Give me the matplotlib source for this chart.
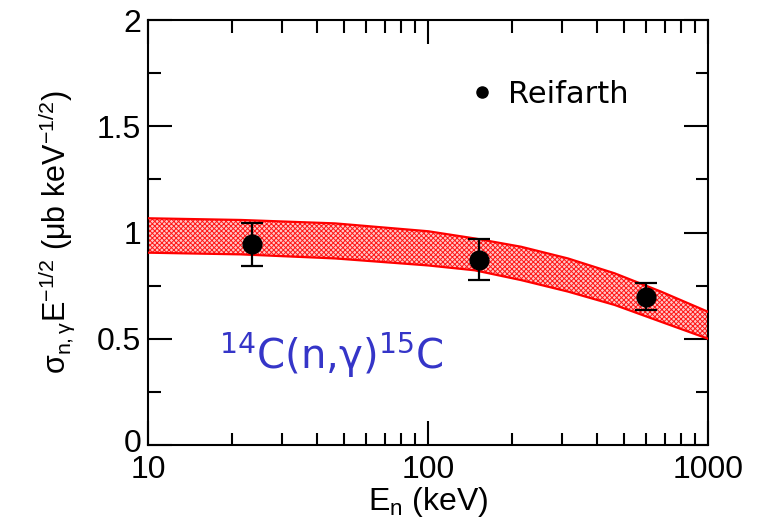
import matplotlib
matplotlib.use("Agg")
import matplotlib.pyplot as plt
import matplotlib.transforms as mtransforms
import numpy as np
from matplotlib.ticker import FixedLocator, NullFormatter, LogLocator
from matplotlib.lines import Line2D

plt.rcParams['font.family'] = ['Liberation Sans', 'DejaVu Sans']
plt.rcParams['mathtext.fontset'] = 'custom'
plt.rcParams['mathtext.rm'] = 'Liberation Sans'
plt.rcParams['mathtext.it'] = 'Liberation Sans:italic'
plt.rcParams['hatch.color'] = '#ff1818'
plt.rcParams['hatch.linewidth'] = 0.7

# Data (Reifarth)
exp_E = [23.5, 152, 601]
exp_y = [0.947, 0.872, 0.697]
exp_lo = [0.842, 0.775, 0.635]
exp_hi = [1.046, 0.970, 0.762]

# Theory band
band_E = [10, 21.5, 46.5, 100, 147, 215, 316, 464, 679, 1000]
band_up = [1.067, 1.059, 1.043, 1.006, 0.972, 0.933, 0.878, 0.808, 0.722, 0.627]
band_lo = [0.905, 0.897, 0.878, 0.845, 0.822, 0.776, 0.722, 0.659, 0.580, 0.500]

fig = plt.figure(figsize=(7.62, 5.31), dpi=100)
ax = fig.add_axes([148/762, 1-445/531, (708-148)/762, (445-20)/531])

ax.fill_between(band_E, band_lo, band_up, facecolor='#ffc8c8', edgecolor='none',
                hatch='xxxxxxx', linewidth=0, zorder=2)
ax.plot(band_E, band_up, color='red', lw=1.6, zorder=3)
ax.plot(band_E, band_lo, color='red', lw=1.6, zorder=3)

yerr = [np.array(exp_y) - np.array(exp_lo), np.array(exp_hi) - np.array(exp_y)]
ax.errorbar(exp_E, exp_y, yerr=yerr, fmt='o', color='black', ms=13.5,
            capsize=8, elinewidth=1.6, capthick=1.6, zorder=5)

ax.set_xscale('log')
ax.set_xlim(10, 1000)
ax.set_ylim(0, 2)
ax.set_xticks([10, 100, 1000])
ax.set_xticklabels(['10', '100', '1000'])
ax.xaxis.set_minor_locator(LogLocator(base=10, subs=np.arange(2, 10)))
ax.xaxis.set_minor_formatter(NullFormatter())
ax.set_yticks([0, 0.5, 1, 1.5, 2])
ax.set_yticklabels(['0', '0.5', '1', '1.5', '2'])
ax.yaxis.set_minor_locator(FixedLocator([0.25, 0.75, 1.25, 1.75]))

ax.tick_params(which='both', direction='in', top=True, right=True, labelsize=23, width=1.5)
ax.tick_params(which='major', length=17)
ax.tick_params(which='minor', length=9)
ax.tick_params(axis='y', pad=5)
ax.tick_params(axis='x', pad=7)
for s in ax.spines.values():
    s.set_linewidth(1.5)

# lift the "0" label slightly so it does not touch "10"
lbl0 = ax.get_yticklabels()[0]
lbl0.set_transform(lbl0.get_transform() + mtransforms.ScaledTranslation(0, 4/100, fig.dpi_scale_trans))

ax.set_xlabel('E$_\\mathregular{n}$ (keV)', fontsize=23, labelpad=0)
ax.set_ylabel(r'$\mathregular{\sigma_{n,\gamma}E^{-1/2}}$ (μb keV$\mathregular{^{-1/2}}$)', fontsize=22, labelpad=14)

handle = Line2D([], [], marker='o', color='black', linestyle='none', markersize=8)
ax.legend([handle], ['Reifarth'], loc='center left', bbox_to_anchor=(0.58, 0.825), frameon=False,
          handlelength=0.6, handletextpad=0.55, borderaxespad=0, borderpad=0,
          prop={'family': 'DejaVu Sans', 'size': 22})

ax.text(0.327, 0.212, r'$^{\mathregular{14}}$C(n,γ)$^{\mathregular{15}}$C', transform=ax.transAxes,
        ha='center', va='center', fontsize=29, color='#3535c8', family='DejaVu Sans')

fig.savefig('out.png', dpi=100)
